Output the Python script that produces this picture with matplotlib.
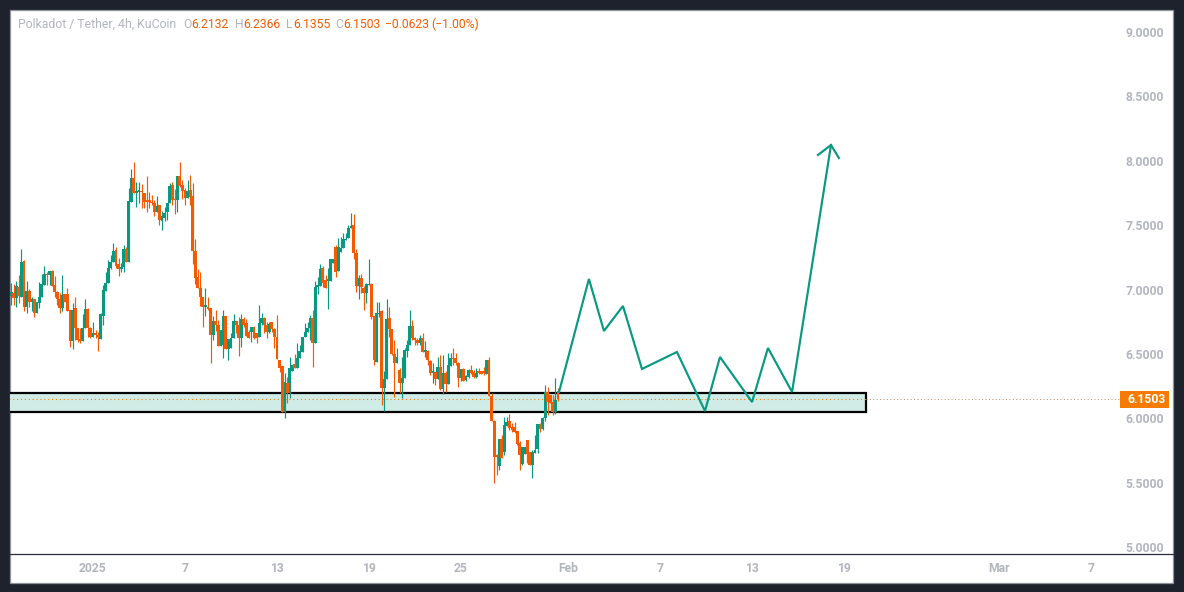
import matplotlib
matplotlib.use("Agg")
import matplotlib.pyplot as plt
from matplotlib.patches import Rectangle
import numpy as np

opens = [6.952,6.970,6.931,7.022,6.944,7.221,6.866,6.988,6.905,6.926,
6.814,6.892,6.939,7.034,7.120,7.112,7.143,7.034,6.983,6.928,
6.858,6.962,6.962,6.840,6.602,6.853,6.703,6.607,6.602,6.703,
6.848,6.698,6.633,6.662,6.646,6.618,6.796,6.990,7.053,7.166,
7.216,7.306,7.198,7.156,7.177,7.314,7.216,7.682,7.866,7.752,
7.760,7.762,7.746,7.695,7.690,7.682,7.669,7.604,7.653,7.534,
7.552,7.601,7.669,7.811,7.700,7.695,7.881,7.808,7.772,7.713,
7.772,7.726,7.299,7.094,7.009,6.939,6.867,6.867,6.854,6.646,
6.755,6.722,6.564,6.569,6.794,6.535,6.548,6.621,6.755,6.724,
6.626,6.771,6.737,6.667,6.667,6.711,6.659,6.634,6.737,6.781,
6.724,6.672,6.745,6.690,6.628,6.450,6.406,6.051,6.271,6.193,
6.367,6.421,6.393,6.465,6.517,6.628,6.672,6.701,6.776,6.582,
7.022,7.027,7.164,7.074,7.068,7.068,7.203,7.327,7.146,7.294,
7.320,7.384,7.402,7.475,7.501,7.281,7.027,7.087,7.009,6.970,
7.035,7.043,6.794,6.439,6.809,6.833,6.237,6.302,6.776,6.690,
6.496,6.426,6.374,6.271,6.310,6.525,6.568,6.716,6.620,6.607,
6.581,6.620,6.517,6.522,6.447,6.354,6.361,6.304,6.400,6.224,
6.354,6.263,6.408,6.465,6.465,6.426,6.315,6.379,6.297,6.318,
6.374,6.361,6.318,6.367,6.367,6.367,6.343,6.452,6.175,5.981,
5.715,5.631,5.838,5.740,5.942,5.978,5.934,5.934,5.900,5.805,
5.642,5.719,5.831,5.737,5.637,5.732,5.758,5.955,5.916,6.004,
6.206,6.180,6.128,6.051,6.2132]
closes = [6.983,6.931,7.027,6.949,7.216,6.866,6.988,6.905,6.926,6.814,
6.900,6.939,7.040,7.120,7.112,7.143,7.029,6.983,6.923,6.858,
6.957,6.905,6.835,6.602,6.840,6.703,6.607,6.602,6.703,6.848,
6.698,6.633,6.662,6.646,6.633,6.809,6.996,7.047,7.166,7.216,
7.299,7.182,7.156,7.177,7.314,7.216,7.687,7.866,7.752,7.765,
7.762,7.757,7.682,7.682,7.682,7.669,7.604,7.648,7.539,7.570,
7.596,7.669,7.803,7.695,7.695,7.881,7.803,7.767,7.713,7.767,
7.721,7.301,7.091,7.009,6.939,6.867,6.872,6.846,6.646,6.755,
6.722,6.564,6.685,6.794,6.535,6.613,6.621,6.755,6.724,6.626,
6.771,6.724,6.639,6.626,6.706,6.626,6.626,6.737,6.776,6.724,
6.672,6.732,6.690,6.628,6.457,6.393,6.051,6.281,6.193,6.388,
6.413,6.393,6.465,6.522,6.628,6.672,6.701,6.776,6.582,7.017,
7.027,7.159,7.053,7.014,7.079,7.234,7.234,7.138,7.327,7.320,
7.389,7.392,7.475,7.496,7.281,7.027,7.087,7.017,6.975,7.040,
7.043,6.789,6.452,6.814,6.820,6.237,6.304,6.768,6.690,6.496,
6.426,6.473,6.271,6.310,6.530,6.568,6.716,6.620,6.607,6.581,
6.620,6.517,6.522,6.452,6.354,6.367,6.304,6.395,6.227,6.354,
6.263,6.413,6.465,6.460,6.426,6.315,6.379,6.291,6.328,6.374,
6.354,6.318,6.354,6.354,6.343,6.354,6.452,6.175,5.981,5.701,
5.701,5.838,5.688,5.947,5.973,5.921,5.908,5.895,5.797,5.714,
5.774,5.779,5.722,5.637,5.740,5.753,5.955,5.916,6.004,6.206,
6.128,6.115,6.051,6.141,6.1503]
highs = [7.047,7.042,7.066,7.112,7.314,7.229,7.066,7.003,6.944,6.926,
6.900,7.058,7.120,7.182,7.138,7.143,7.151,7.104,6.988,6.970,
7.112,6.962,7.014,6.840,6.892,6.944,6.703,6.698,6.809,6.926,
6.853,6.711,6.750,6.685,6.672,6.814,7.034,7.138,7.229,7.267,
7.358,7.327,7.242,7.203,7.345,7.332,7.790,7.935,7.990,7.837,
7.837,7.819,7.752,7.881,7.759,7.733,7.695,7.726,7.656,7.609,
7.643,7.674,7.824,7.832,7.777,7.881,7.990,7.850,7.785,7.850,
7.889,7.824,7.392,7.159,7.133,6.944,7.009,6.944,6.854,6.794,
6.841,6.763,6.685,6.841,6.794,6.613,6.659,6.807,6.755,6.789,
6.807,6.789,6.771,6.685,6.711,6.716,6.664,6.879,6.815,6.789,
6.750,6.750,6.750,6.698,6.802,6.452,6.406,6.354,6.323,6.473,
6.413,6.499,6.582,6.569,6.628,6.737,6.745,6.802,6.841,7.066,
7.094,7.195,7.185,7.112,7.164,7.234,7.234,7.345,7.397,7.410,
7.441,7.441,7.501,7.591,7.586,7.312,7.112,7.120,7.027,7.053,
7.234,7.048,6.794,6.905,6.905,6.840,6.367,6.930,6.861,6.690,
6.607,6.543,6.387,6.473,6.543,6.607,6.840,6.763,6.633,6.625,
6.646,6.659,6.600,6.530,6.452,6.426,6.361,6.478,6.491,6.491,
6.367,6.504,6.504,6.543,6.504,6.439,6.379,6.387,6.335,6.379,
6.413,6.374,6.387,6.387,6.367,6.400,6.452,6.473,6.200,5.986,
5.720,5.838,5.869,6.012,6.012,6.033,5.960,5.973,5.900,5.823,
5.779,5.779,5.831,5.740,5.753,5.869,5.955,5.960,6.012,6.258,
6.245,6.180,6.180,6.310,6.2366]
lows = [6.879,6.879,6.866,6.892,6.944,6.833,6.820,6.866,6.833,6.788,
6.814,6.853,6.939,7.034,7.034,7.034,7.029,6.944,6.879,6.814,
6.835,6.905,6.835,6.555,6.537,6.607,6.594,6.587,6.602,6.703,
6.633,6.620,6.633,6.625,6.524,6.618,6.724,6.990,7.053,7.156,
7.216,7.164,7.104,7.138,7.138,7.216,7.216,7.682,7.746,7.643,
7.669,7.630,7.630,7.604,7.630,7.656,7.573,7.604,7.500,7.462,
7.534,7.539,7.669,7.656,7.586,7.604,7.798,7.700,7.656,7.713,
7.656,7.198,7.042,7.009,6.872,6.711,6.794,6.841,6.426,6.608,
6.678,6.564,6.564,6.470,6.535,6.452,6.543,6.621,6.659,6.486,
6.556,6.711,6.639,6.621,6.595,6.613,6.587,6.634,6.724,6.659,
6.621,6.659,6.672,6.548,6.457,6.362,6.051,5.999,6.116,6.155,
6.367,6.393,6.393,6.465,6.517,6.628,6.672,6.608,6.400,6.582,
6.965,7.027,7.017,7.014,6.851,7.068,7.203,7.100,7.146,7.294,
7.320,7.384,7.402,7.475,7.234,6.983,6.926,6.970,6.841,6.892,
7.035,6.768,6.413,6.439,6.790,6.102,6.058,6.302,6.633,6.491,
6.162,6.426,6.193,6.159,6.310,6.478,6.568,6.607,6.568,6.568,
6.568,6.517,6.478,6.413,6.335,6.271,6.258,6.302,6.219,6.188,
6.201,6.263,6.408,6.413,6.413,6.240,6.289,6.291,6.291,6.310,
6.343,6.310,6.310,6.343,6.343,6.335,6.343,6.172,5.981,5.494,
5.559,5.598,5.688,5.714,5.942,5.908,5.895,5.882,5.792,5.598,
5.637,5.719,5.649,5.637,5.538,5.727,5.727,5.895,5.908,5.981,
6.025,6.115,6.025,6.033,6.1355]

path_days = [30.4,32.35,33.33,34.57,35.81,38.09,39.92,40.9,42.99,44.03,45.6,48.14]
path_prices = [6.204,7.082,6.678,6.872,6.383,6.515,6.056,6.476,6.126,6.546,6.204,8.122]
arrow_days = [47.29,48.14,48.66]
arrow_prices = [8.045,8.122,8.021]

zone_low, zone_high = 6.048, 6.196
zone_end_day = 50.4
last_price = closes[-1]
price_ticks = [5,5.5,6,6.5,7,7.5,8,8.5,9]
date_ticks = [1,7,13,19,25,32,38,44,50,60.13,66.13]
date_labels = ["2025","7","13","19","25","Feb","7","13","19","Mar","7"]

W,H = 1184,592
DARK,UP,DOWN,GREY = "#1e222d","#089981","#f45b00","#b2b5be"
plt.rcParams["font.family"] = ["Roboto","DejaVu Sans"]
fig = plt.figure(figsize=(W/100,H/100),dpi=100,facecolor=DARK)
L,R,T,B = 10,1173,11,554
panel = Rectangle((L/W,1-582.5/H),(R-L)/W,(582.5-10)/H,transform=fig.transFigure,fc="white",ec="#8f929c",lw=0.9,zorder=-1)
fig.add_artist(panel)
ax = fig.add_axes([L/W,1-B/H,(R-L)/W,(B-T)/H],facecolor="none")
ax.set_xlim(-5.414,70.45)
ax.set_ylim(4.946,9.163)
for s in ["top","left","right"]:
    ax.spines[s].set_visible(False)
ax.spines["bottom"].set_color("#2a2e39")
ax.spines["bottom"].set_linewidth(0.9)

o,c,h,l = map(np.array,(opens,closes,highs,lows))
x0 = (np.arange(len(opens))-32)/6
ax.add_patch(Rectangle((-6,zone_low),zone_end_day+6,zone_high-zone_low,fc="#d1ece6",ec="black",lw=1.6,zorder=1))
ax.plot([-6,zone_end_day],[last_price]*2,color="#f57c00",lw=0.8,ls=(0,(1,2.5)),zorder=2)
ax.plot([zone_end_day,68.6],[last_price]*2,color="#b08a66",lw=0.7,ls=(0,(1,2.5)),zorder=2)
for mask,col,z in [(c>=o,UP,3),(c<o,DOWN,4)]:
    ax.vlines(x0[mask],l[mask],h[mask],color=col,lw=0.85,zorder=z)
    ax.bar(x0[mask],np.maximum(np.abs(c-o)[mask],0.01),bottom=np.minimum(o,c)[mask],width=0.19,color=col,lw=0,zorder=z)
ax.plot(path_days,path_prices,color=UP,lw=1.55,zorder=5,solid_joinstyle="miter")
ax.plot(arrow_days,arrow_prices,color=UP,lw=1.55,zorder=5,solid_joinstyle="miter")

ax.set_xticks([d-1 for d in date_ticks],date_labels,color=GREY,fontsize=8.7,fontweight="bold")
ax.set_yticks(price_ticks,[f"{p:.4f}" for p in price_ticks],color=GREY,fontsize=8.7,fontweight="bold")
ax.yaxis.tick_right()
ax.tick_params(axis="y",length=0,pad=-34)
ax.tick_params(axis="x",length=0,pad=6)

def px(x,y,s,color,**kw):
    fig.text(x/W,1-y/H,s,color=color,va="center",zorder=6,**kw)
HD = "#f45b00"
px(18,24.5,"Polkadot / Tether, 4h, KuCoin",GREY,fontsize=8.8)
for x,s,col in [(183,"O",GREY),(191.5,"6.2132",HD),(235,"H",GREY),(243,"6.2366",HD),(286,"L",GREY),(293.5,"6.1355",HD),
                (335,"C",GREY),(343,"6.1503",HD),(385,"\u22120.0623",HD),(431.5,"(\u22121.00%)",HD)]:
    px(x,24.5,s,col,fontsize=8.7)
fig.add_artist(Rectangle((1120/W,1-408/H),49/W,17/H,transform=fig.transFigure,fc="#f57c00",ec="none",zorder=5))
px(1127,399.5,f"{last_price:.4f}","white",fontsize=8.7,fontweight="bold")
fig.savefig("out.png",dpi=100,facecolor=DARK)
